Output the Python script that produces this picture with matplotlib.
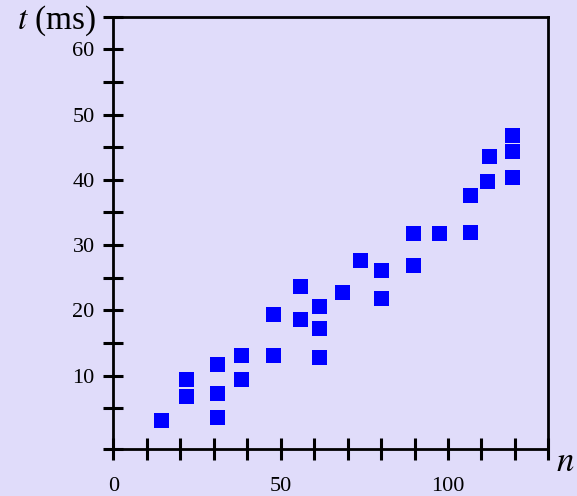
import matplotlib
matplotlib.use('Agg')
import matplotlib.pyplot as plt
import numpy as np

plt.rcParams['font.family'] = 'Liberation Serif'
plt.rcParams['mathtext.fontset'] = 'stix'

# measured points: n vs t (ms)
n_vals = [14.1, 21.6, 21.6, 30.9, 30.9, 30.9, 38.2, 38.2, 47.7, 47.7,
          55.9, 55.9, 61.5, 61.5, 61.5, 68.4, 73.8, 80.1, 80.1, 89.4,
          89.4, 97.2, 106.5, 106.5, 112.2, 111.6, 119.1, 119.1, 119.1]
t_vals = [3.2, 9.5, 6.8, 11.7, 7.3, 3.7, 13.2, 9.4, 19.5, 13.1,
          23.8, 18.7, 20.6, 17.3, 12.9, 22.8, 27.7, 26.2, 21.9, 31.9,
          27.0, 31.9, 32.0, 37.7, 43.6, 39.8, 46.9, 44.4, 40.4]

x_labels = {0: '0', 50: '50', 100: '100'}
y_labels = {10: '10', 20: '20', 30: '30', 40: '40', 50: '50', 60: '60'}

bg = '#E0DCFA'
fig = plt.figure(figsize=(5.77, 4.96), dpi=100, facecolor=bg)
ax = fig.add_axes([0.1964, 0.0948, 0.754, 0.8716], facecolor=bg)

ax.plot(n_vals, t_vals, linestyle='none', marker='s', markersize=10.8,
        color='#0000FF', markeredgewidth=0)

ymin, ymax = -1.25, 65
ax.set_xlim(0, 130)
ax.set_ylim(ymin, ymax)

xt = np.arange(0, 131, 10)
ax.set_xticks(xt)
ax.set_xticklabels([x_labels.get(int(v), '') for v in xt])
yt = [ymin] + list(np.arange(5, 66, 5))
ax.set_yticks(yt)
ax.set_yticklabels([y_labels.get(int(v), '') if v > 0 else '' for v in yt])

for s in ax.spines.values():
    s.set_linewidth(2)
ax.tick_params(axis='y', direction='inout', length=15, width=2.2, pad=6,
               labelsize=16)
ax.tick_params(axis='x', direction='inout', length=16, width=2.2, pad=12,
               labelsize=16)

fig.text(96/577, 1 - 29/496, '$t$ (ms)', ha='right', va='baseline', fontsize=24)
fig.text(556/577, 1 - 471/496, '$n$', ha='left', va='baseline', fontsize=25)

fig.savefig('out.png', dpi=100, facecolor=bg)
